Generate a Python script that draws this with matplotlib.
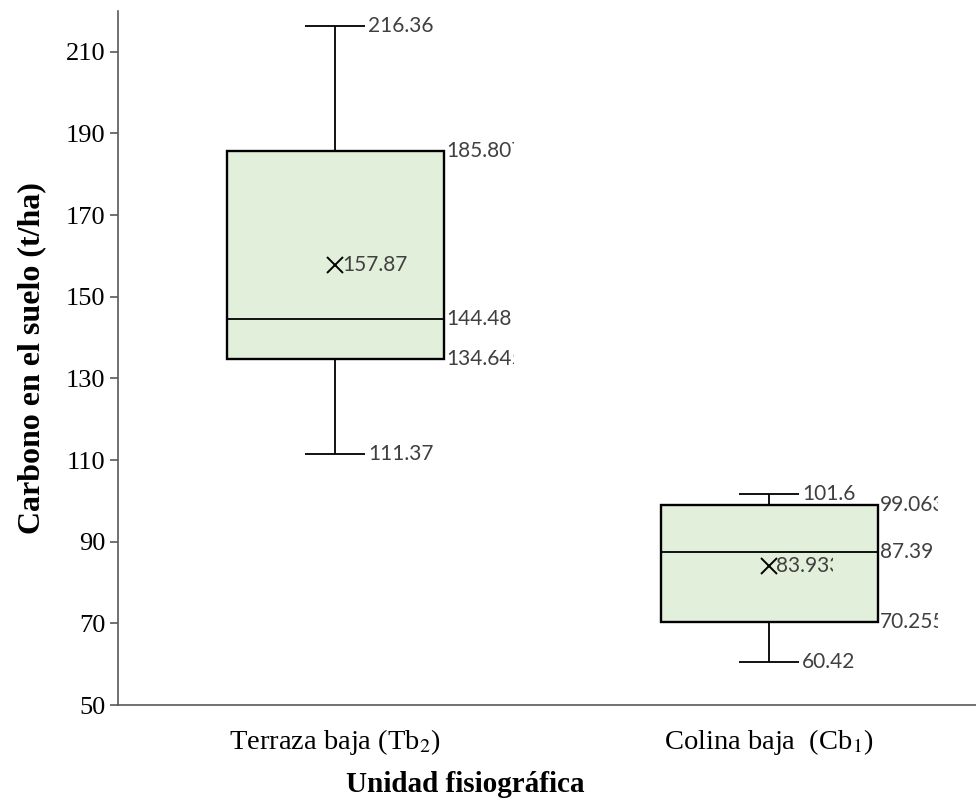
import matplotlib
matplotlib.use("Agg")
import matplotlib.pyplot as plt
from matplotlib.patches import Rectangle
from matplotlib.transforms import Bbox

# ---- data ----
categories = ["Terraza baja (Tb$_2$)", "Colina baja  (Cb$_1$)"]
whisker_low = [111.37, 60.42]
q1 = [134.645, 70.255]
median = [144.48, 87.39]
q3 = [185.807, 99.063]
whisker_high = [216.36, 101.6]
mean = [157.87, 83.933]

low_labels = ["111.37", "60.42"]
q1_labels = ["134.645", "70.255"]
median_labels = ["144.48", "87.39"]
q3_labels = ["185.807", "99.063"]
high_labels = ["216.36", "101.6"]
mean_labels = ["157.87", "83.933"]

y_ticks = [50, 70, 90, 110, 130, 150, 170, 190, 210]

# ---- style ----
plt.rcParams["mathtext.fontset"] = "stix"
W, H, DPI = 9.76, 8.05, 100
fig = plt.figure(figsize=(W, H), dpi=DPI)
ax = fig.add_axes([118 / 976, 100 / 805, 868 / 976, 694 / 805])
ax.set_xlim(0.5, 2.5)
ax.set_ylim(50, 220)

fill = "#E2EFDA"
lab_color = "#404040"
lab_font = dict(family="Lato", size=15, color=lab_color)
box_w = 0.5
cap_hw = 0.07
# clip width (pixels) of the value labels, as in the original
clip_px = [68, 58]

positions = [1, 2]

def clipped_label(x, y, s, clip, off=2):
    t = ax.annotate(s, xy=(x, y), xytext=(off, 0), textcoords="offset points",
                    va="center", ha="left", annotation_clip=False, **lab_font)
    if clip is not None:
        x0 = ax.transData.transform((x, y))[0] + off * DPI / 72
        t.set_clip_box(Bbox([[x0 - 2, 0], [x0 + clip, H * DPI]]))
        t.set_clip_on(True)
    return t

for i, p in enumerate(positions):
    # whiskers
    ax.vlines(p, whisker_low[i], q1[i], color="black", lw=1.3, zorder=2)
    ax.vlines(p, q3[i], whisker_high[i], color="black", lw=1.3, zorder=2)
    ax.hlines([whisker_low[i], whisker_high[i]], p - cap_hw, p + cap_hw,
              color="black", lw=1.3, zorder=2)
    # box
    ax.add_patch(Rectangle((p - box_w / 2, q1[i]), box_w, q3[i] - q1[i],
                           facecolor=fill, edgecolor="black", lw=1.7, zorder=3))
    ax.hlines(median[i], p - box_w / 2, p + box_w / 2, color="black", lw=1.3, zorder=4)
    # mean
    ax.plot(p, mean[i], marker="x", ms=11, mew=1.4, color="black", zorder=5)

    # labels
    clipped_label(p + cap_hw, whisker_high[i], high_labels[i], None)
    clipped_label(p + cap_hw, whisker_low[i], low_labels[i], None)
    clipped_label(p + box_w / 2, q3[i], q3_labels[i], clip_px[i])
    clipped_label(p + box_w / 2, median[i], median_labels[i], clip_px[i])
    clipped_label(p + box_w / 2, q1[i], q1_labels[i], clip_px[i])
    clipped_label(p, mean[i], mean_labels[i], None if i == 0 else 57, off=5)

# axes styling
for s in ["top", "right"]:
    ax.spines[s].set_visible(False)
for s in ["left", "bottom"]:
    ax.spines[s].set_color("#595959")
    ax.spines[s].set_linewidth(1.2)

ax.set_yticks(y_ticks)
ax.set_yticklabels([str(v) for v in y_ticks], fontsize=19, family="Liberation Serif")
ax.tick_params(axis="y", length=6, width=1.2, color="#595959", pad=3)
ax.set_xticks(positions)
ax.set_xticklabels(categories, fontsize=20.5, family="Liberation Serif")
ax.tick_params(axis="x", length=0, pad=16)

ax.set_ylabel("Carbono en el suelo (t/ha)", fontsize=23, family="Liberation Serif",
              fontweight="bold", labelpad=14)
ax.set_xlabel("Unidad fisiográfica", fontsize=21, family="Liberation Serif",
              fontweight="bold")
ax.xaxis.set_label_coords(0.40, -0.095)

fig.savefig("out.png", dpi=DPI)
